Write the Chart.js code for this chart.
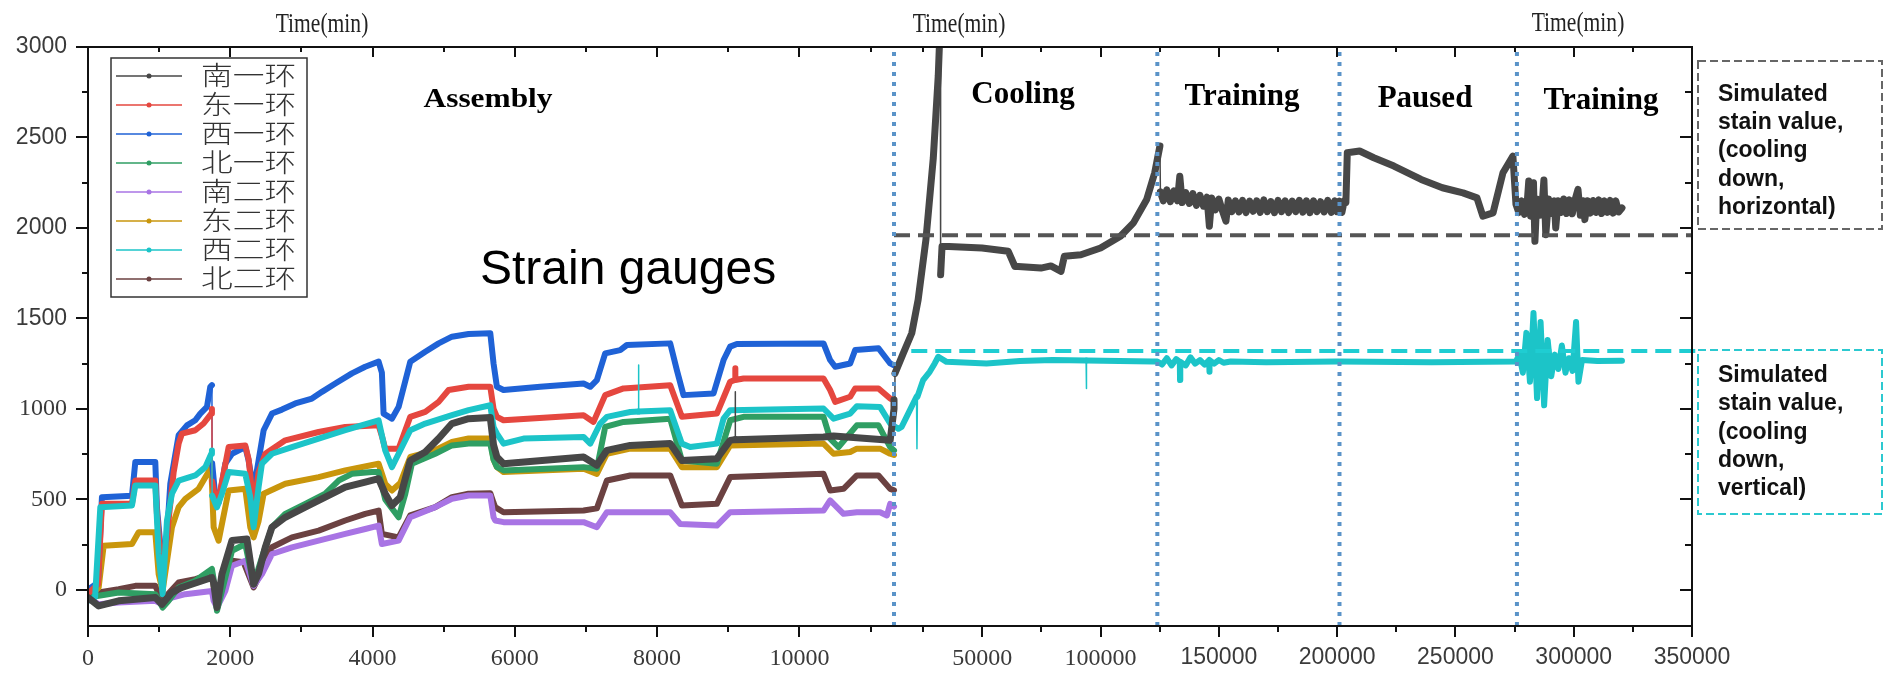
<!DOCTYPE html>
<html><head><meta charset="utf-8">
<script src="https://cdn.jsdelivr.net/npm/chart.js@4.4.1/dist/chart.umd.min.js"></script>
<style>html,body{margin:0;padding:0;background:#fff;}#wrap{width:1884px;height:677px;position:relative;}</style>
</head><body><div id="wrap"><canvas id="c" width="1884" height="677"></canvas></div>
<script>
// ---------------- DATA ----------------
const SERIES_NAMES = ['南一环','东一环','西一环','北一环','南二环','东二环','西二环','北二环'];
const X_TICKS = [0,2000,4000,6000,8000,10000,50000,100000,150000,200000,250000,300000,350000];
const X_MINOR = [1000,3000,5000,7000,9000,11000,25000,75000,125000,175000,225000,275000,325000];
const Y_TICKS = [0,500,1000,1500,2000,2500,3000];
const Y_MINOR = [250,750,1250,1750,2250,2750];
const X_LEFT_MAX = 11330;   // end of assembly part (left scale)
const X_RIGHT_MIN = 12700;  // start of right scale
const PHASE_LINES = [12700,124000,201000,276000];
const SIM_HORIZONTAL = 1960;
const SIM_VERTICAL = 1320;

// 南一环
const NANYI_T = [0,150,431,946,1040,1180,1321,1742,1766,1813,1883,2024,2234,2328,2398,2492,2586,2773,3054,3335,3616,3897,4085,4178,4272,4389,4530,4741,4929,5116,5350,5655,5701,5748,5841,6966,7153,7294,7622,8184,8348,8840,9027,9095,9098,9101,10339,10480,11276,11330,
 12700,13100,16600,20200,22900,26200,29300,31400,32300,32400,33000,35900,49900,61000,63800,65200,74800,79000,83300,84700,91700,100000,108400,113900,119500,122900,125100,
 125300,126500,128000,129500,131000,132500,133500,134500,136000,137500,139000,140500,142000,143500,145000,146000,147000,148500,150000,151500,153000,154000,155500,157000,158500,160000,161500,163000,164500,166000,167500,169000,170500,172000,173500,175000,176500,178000,179500,181000,182500,184000,185500,187000,188500,190000,191500,193000,194500,196000,197500,199000,200000,201000,202000,203000,203700,
 204300,209500,215500,224000,235500,244500,253200,259100,261600,265900,270100,274300,
 275600,276800,278000,279200,280400,281000,281800,283000,283600,284400,285600,286800,287400,288200,289400,290600,291800,292400,293400,294600,295800,297000,298200,299400,300600,301800,302800,304000,304700,305800,307000,308200,309400,310600,311800,313000,314200,315400,316600,317800,319000,320400];
const NANYI_V = [-43,-89,-61,-43,-80,-15,13,68,40,-98,87,272,281,31,90,235,346,401,457,512,567,595,614,531,466,512,715,762,836,919,946,952,800,734,697,734,688,771,798,808,715,725,826,830,1094,830,845,850,826,1000,
 1050,1196,1307,1418,1603,1936,2386,2841,3150,1741,1898,1898,1889,1871,1787,1787,1778,1790,1760,1843,1852,1889,1954,2028,2157,2305,2453,
 2200,2150,2210,2145,2205,2150,2286,2140,2195,2135,2190,2125,2180,2120,2170,2009,2165,2100,2160,2095,2037,2155,2090,2150,2088,2152,2085,2148,2092,2150,2086,2155,2090,2146,2084,2152,2090,2150,2085,2148,2090,2153,2087,2150,2084,2150,2090,2145,2088,2152,2086,2150,2090,2148,2085,2150,2140,
 2416,2425,2388,2342,2268,2222,2194,2166,2065,2083,2305,2397,
 2130,2085,2150,2075,2150,2259,2065,2250,1926,2160,2070,2155,2265,1963,2160,2080,2150,2000,2150,2085,2160,2080,2155,2078,2158,2213,2070,2150,2046,2150,2082,2152,2085,2155,2080,2150,2086,2152,2082,2150,2088,2110];

// 东一环
const DONGYI_T = [0,140,196,618,665,946,969,1040,1110,1204,1274,1321,1508,1625,1733,1742,1745,1799,1836,1977,2211,2258,2328,2398,2492,2773,3242,3616,4085,4131,4178,4366,4530,4741,4929,5069,5350,5655,5701,5748,5841,6966,7106,7270,7528,8184,8348,8840,9027,9095,9098,9101,9215,10339,10432,10503,10714,10784,11112,11276,11330];
const DONGYI_V = [-20,30,475,475,604,604,420,100,300,650,808,863,882,919,974,1000,600,480,500,789,798,720,456,650,752,826,872,900,909,850,780,780,956,983,1039,1104,1122,1122,1000,956,937,965,928,1076,1113,1131,956,974,1150,1160,1224,1160,1168,1168,1104,1039,1067,1113,1113,1057,1050];

// 西一环
const XIYI_T = [0,140,196,618,665,946,969,1040,1110,1157,1274,1391,1508,1579,1672,1719,1742,1745,1799,1836,1930,2024,2211,2258,2328,2398,2469,2586,2726,2914,3148,3289,3476,3710,3897,4085,4131,4155,4272,4366,4530,4741,4929,5116,5350,5655,5701,5748,5841,6357,6966,7060,7153,7270,7481,7575,8184,8278,8371,8793,8934,9027,9121,10339,10432,10503,10714,10784,11112,11276,11330];
const XIYI_V = [0,40,512,520,706,706,455,150,300,586,854,909,937,974,1011,1122,1131,700,475,480,697,752,789,715,549,715,882,974,996,1030,1057,1094,1140,1196,1233,1261,1200,974,946,1011,1261,1316,1362,1399,1414,1418,1250,1122,1104,1122,1140,1122,1159,1307,1325,1353,1362,1214,1076,1085,1270,1344,1359,1362,1270,1233,1251,1325,1335,1251,1240];

// 北一环
const BEIYI_T = [0,150,431,946,1049,1133,1274,1508,1742,1766,1813,1883,2024,2211,2328,2445,2586,2773,3054,3335,3523,3710,3991,4085,4178,4366,4460,4553,4881,5116,5350,5655,5701,5748,5841,6966,7153,7270,7528,8184,8348,8840,9027,9215,10339,10432,10550,10807,11112,11276,11330];
const BEIYI_V = [-43,-33,-15,-24,-98,-60,13,50,115,60,-116,-6,216,253,31,179,346,420,475,531,604,641,651,651,500,401,530,697,752,798,808,808,720,678,660,678,669,900,928,946,715,697,937,956,956,836,789,909,909,789,770];

// 南二环
const NANER_T = [0,150,431,946,1040,1180,1368,1742,1766,1813,1930,2024,2211,2328,2445,2586,2867,3242,3616,3897,4085,4131,4366,4530,4881,5116,5350,5655,5701,5724,5841,6966,7153,7294,8184,8325,8840,9027,10339,10432,10620,10807,11135,11230,11276,11330];
const NANER_V = [-43,-80,-70,-61,-80,-43,-24,-6,-60,-98,-6,133,161,22,87,198,235,272,309,336,355,253,272,401,457,503,521,521,401,383,374,374,346,429,429,364,355,429,438,494,420,429,429,411,475,460];

// 东二环
const DONGER_T = [0,150,220,618,712,946,993,1049,1180,1274,1368,1555,1733,1766,1836,1977,2211,2281,2328,2398,2469,2773,3242,3616,4085,4178,4272,4389,4530,4881,5116,5350,5655,5701,5748,5841,6966,7153,7294,7622,8184,8348,8840,9027,10339,10480,10714,10807,11135,11276,11330];
const DONGER_V = [-43,13,244,253,318,318,87,-6,346,457,503,558,678,346,272,549,558,346,290,380,531,586,623,660,697,586,549,590,734,771,817,836,836,720,678,651,669,641,752,780,780,678,678,798,808,752,762,780,780,752,745];

// 西二环
const XIER_T = [0,100,173,618,665,946,993,1049,1110,1180,1274,1508,1649,1733,1742,1745,1813,1883,1977,2211,2281,2328,2398,2445,2586,2867,3242,3616,4085,4178,4272,4366,4530,4741,5116,5350,5655,5701,5748,5841,6123,6966,7060,7200,7294,7622,7736,7739,7742,8184,8348,8465,8840,8934,9027,10339,10480,10714,10807,11135,11276,11330,
 12700,14500,15900,18700,22200,22400,22600,25000,27800,29900,31400,34900,51800,65900,79800,93900,94000,94100,122000,124000,126000,128000,130000,132000,133500,133600,133700,136000,138000,140000,142000,144000,145900,146000,146100,148000,150000,152000,155000,170000,200000,240000,275600,277000,278500,280000,281500,283000,284500,286000,287500,289000,290500,292000,293500,295000,296500,298000,299500,301000,302000,303500,310000,320400];
const XIER_V = [-61,-40,456,466,577,577,198,-24,383,531,604,632,678,752,770,520,456,531,651,641,512,346,567,697,752,789,836,882,937,771,678,752,882,919,965,993,1020,900,863,808,836,845,808,919,956,983,985,1242,985,993,808,789,808,946,993,1002,946,974,1015,1010,919,905,
 905,890,900,974,1067,780,1067,1159,1205,1251,1288,1260,1251,1264,1270,1268,1113,1268,1262,1262,1245,1280,1240,1275,1260,1159,1260,1240,1285,1250,1270,1245,1270,1205,1270,1250,1270,1255,1262,1258,1262,1258,1262,1300,1200,1420,1150,1530,1060,1480,1020,1380,1180,1300,1220,1350,1200,1280,1210,1480,1150,1270,1265,1266];

// 北二环
const BEIER_T = [0,150,431,665,946,1040,1180,1274,1508,1742,1766,1813,1883,2024,2188,2328,2445,2586,2867,3242,3616,3897,4085,4131,4366,4530,4881,5116,5350,5655,5701,5724,5841,6966,7153,7294,7622,8184,8348,8840,9027,10339,10432,10620,10807,11112,11276,11330];
const BEIER_V = [-6,-15,4,22,22,-61,0,41,59,87,20,-80,13,161,152,13,105,235,290,327,383,420,438,309,290,411,457,512,531,534,480,457,429,438,450,604,632,632,466,475,623,641,549,558,632,632,558,550];

const SERIES_T = [NANYI_T,DONGYI_T,XIYI_T,BEIYI_T,NANER_T,DONGER_T,XIER_T,BEIER_T];
const SERIES_V = [NANYI_V,DONGYI_V,XIYI_V,BEIYI_V,NANER_V,DONGER_V,XIER_V,BEIER_V];
const SERIES_COLORS = ['#474747','#e5473f','#1f62d6','#2f9e63','#a874e4','#c9960c','#1cc4c8','#6b4141'];

// ---------------- BROKEN X SCALE ----------------
const BREAK_FRAC = 0.5025;
class BrokenScale extends Chart.LinearScale {
  buildTicks() { return X_TICKS.map(v => ({value: v})); }
  _bx() { return this.left + (this.right - this.left) * BREAK_FRAC; }
  getPixelForValue(v) {
    const xb = this._bx();
    if (v <= X_LEFT_MAX) return this.left + v / X_LEFT_MAX * (xb - this.left);
    if (v < X_RIGHT_MIN) return xb;
    return xb + (v - X_RIGHT_MIN) / (this.max - X_RIGHT_MIN) * (this.right - xb);
  }
  getValueForPixel(p) {
    const xb = this._bx();
    if (p <= xb) return (p - this.left) / (xb - this.left) * X_LEFT_MAX;
    return X_RIGHT_MIN + (p - xb) / (this.right - xb) * (this.max - X_RIGHT_MIN);
  }
}
BrokenScale.id = 'broken';
BrokenScale.defaults = Chart.LinearScale.defaults;
Chart.register(BrokenScale);

// ---------------- DATASETS ----------------
const thinSpike = ctx => (Math.abs(ctx.p1.x - ctx.p0.x) < 1 && Math.abs(ctx.p1.y - ctx.p0.y) > 20) ? 1.5 : undefined;
const datasets = [];
PHASE_LINES.forEach(x => datasets.push({
  label: 'phase', data: [{x: x, y: -200}, {x: x, y: 3000}], borderColor: '#5a93c8', borderWidth: 4,
  borderDash: [4, 6], pointRadius: 0, order: 0
}));
datasets.push({label: 'simH', data: [{x: X_RIGHT_MIN, y: SIM_HORIZONTAL}, {x: 350000, y: SIM_HORIZONTAL}],
  borderColor: '#555', borderWidth: 4, borderDash: [16, 8], pointRadius: 0, order: 1});
datasets.push({label: 'simV', data: [{x: 20000, y: SIM_VERTICAL}, {x: 352100, y: SIM_VERTICAL}],
  borderColor: '#1fcdd2', borderWidth: 4, borderDash: [16, 8], pointRadius: 0, order: 1, clip: false});
SERIES_NAMES.forEach((name, i) => {
  datasets.push({
    label: name,
    data: SERIES_T[i].map((t, k) => ({x: t, y: SERIES_V[i][k]})),
    borderColor: SERIES_COLORS[i], borderWidth: i === 0 ? 7 : 6, pointRadius: 0, tension: 0,
    borderJoinStyle: 'round', borderCapStyle: 'round',
    segment: {borderWidth: thinSpike},
    order: 2 + (i === 0 ? 0 : (i === 6 ? 1 : 2 + i))
  });
});

// ---------------- DECORATION PLUGIN ----------------
function txt(ctx, s, x, y, font, color, align, sx) {
  ctx.save(); ctx.font = font; ctx.fillStyle = color; ctx.textAlign = align || 'left';
  ctx.textBaseline = 'alphabetic'; ctx.translate(x, y); ctx.scale(sx || 1, 1);
  ctx.fillText(s, 0, 0); ctx.restore();
}
const deco = {
  id: 'deco',
  afterDraw(chart) {
    const ctx = chart.ctx, a = chart.chartArea, xs = chart.scales.x, ys = chart.scales.y;
    ctx.save();
    ctx.strokeStyle = '#111'; ctx.lineWidth = 2;
    ctx.strokeRect(a.left, a.top, a.right - a.left, a.bottom - a.top);
    ctx.beginPath();
    X_TICKS.forEach(v => { const p = Math.round(xs.getPixelForValue(v));
      ctx.moveTo(p, a.bottom); ctx.lineTo(p, a.bottom + 11); ctx.moveTo(p, a.top); ctx.lineTo(p, a.top + 10); });
    X_MINOR.forEach(v => { const p = Math.round(xs.getPixelForValue(v));
      ctx.moveTo(p, a.bottom); ctx.lineTo(p, a.bottom + 6); ctx.moveTo(p, a.top); ctx.lineTo(p, a.top + 5); });
    Y_TICKS.forEach(v => { const p = Math.round(ys.getPixelForValue(v));
      ctx.moveTo(a.left - 12, p); ctx.lineTo(a.left, p); ctx.moveTo(a.right, p); ctx.lineTo(a.right - 12, p); });
    Y_MINOR.forEach(v => { const p = Math.round(ys.getPixelForValue(v));
      ctx.moveTo(a.left - 6, p); ctx.lineTo(a.left, p); ctx.moveTo(a.right, p); ctx.lineTo(a.right - 7, p); });
    ctx.stroke();

    // legend
    ctx.lineWidth = 1.5; ctx.strokeStyle = '#333';
    ctx.strokeRect(111, 58, 196, 239);
    SERIES_NAMES.forEach((name, i) => {
      const y = 76 + i * 29;
      ctx.strokeStyle = SERIES_COLORS[i]; ctx.lineWidth = 1.5;
      ctx.beginPath(); ctx.moveTo(116, y); ctx.lineTo(182, y); ctx.stroke();
      ctx.fillStyle = SERIES_COLORS[i]; ctx.beginPath(); ctx.arc(149, y, 2.5, 0, Math.PI * 2); ctx.fill();
      txt(ctx, name, 201, y + 9, '300 26px "Noto Sans CJK SC"', '#333', 'left', 1.22);
    });

    // titles / phase labels
    const tm = '28px "Liberation Serif"';
    txt(ctx, 'Time(min)', 322, 32, tm, '#222', 'center', 0.77);
    txt(ctx, 'Time(min)', 959, 32, tm, '#222', 'center', 0.77);
    txt(ctx, 'Time(min)', 1578, 31, tm, '#222', 'center', 0.77);
    const ph = 'bold 31px "Liberation Serif"';
    txt(ctx, 'Assembly', 488, 107, 'bold 28px "Liberation Serif"', '#000', 'center', 1.12);
    txt(ctx, 'Cooling', 1023, 103, ph, '#000', 'center');
    txt(ctx, 'Training', 1242, 105, ph, '#000', 'center');
    txt(ctx, 'Paused', 1425, 107, ph, '#000', 'center');
    txt(ctx, 'Training', 1601, 109, ph, '#000', 'center');
    txt(ctx, 'Strain gauges', 480, 284, '48px "Liberation Sans"', '#000', 'left');

    // simulated value boxes
    ctx.lineWidth = 2; ctx.setLineDash([8, 4]);
    ctx.strokeStyle = '#666'; ctx.strokeRect(1698, 61, 184, 168);
    ctx.strokeStyle = '#2cc9d0'; ctx.strokeRect(1698, 350, 184, 164);
    ctx.setLineDash([]);
    const bf = 'bold 23px "Liberation Sans"';
    ['Simulated', 'stain value,', '(cooling', 'down,', 'horizontal)'].forEach((s, i) =>
      txt(ctx, s, 1718, 101 + i * 28.2, bf, '#111', 'left'));
    ['Simulated', 'stain value,', '(cooling', 'down,', 'vertical)'].forEach((s, i) =>
      txt(ctx, s, 1718, 382 + i * 28.3, bf, '#111', 'left'));
    ctx.restore();
  }
};

// ---------------- CHART ----------------
const serif = {family: '"Liberation Serif"', size: 24};
const sans = {family: '"Liberation Sans"', size: 23};
new Chart(document.getElementById('c'), {
  type: 'line',
  data: {datasets: datasets},
  options: {
    responsive: false, devicePixelRatio: 1, animation: false,
    layout: {padding: {left: 0, right: 192, top: 47, bottom: 0}},
    plugins: {legend: {display: false}, tooltip: {enabled: false}},
    scales: {
      x: {type: 'broken', min: 0, max: 350000, position: 'bottom',
        grid: {display: false, drawTicks: false}, border: {display: false},
        ticks: {autoSkip: false, maxRotation: 0, padding: 18, color: '#3a3a3a',
          callback: v => String(v),
          font: c => (c.tick && c.tick.value >= 150000) ? sans : serif},
        afterFit: s => { s.height = 51; }},
      y: {type: 'linear', min: -200, max: 3000,
        grid: {display: false, drawTicks: false}, border: {display: false},
        afterBuildTicks: s => { s.ticks = Y_TICKS.map(v => ({value: v})); },
        ticks: {padding: 21, color: '#3a3a3a', callback: v => String(v),
          font: c => (c.tick && c.tick.value >= 1500) ? sans : serif},
        afterFit: s => { s.width = 88; }}
    }
  },
  plugins: [deco]
});
</script></body></html>
